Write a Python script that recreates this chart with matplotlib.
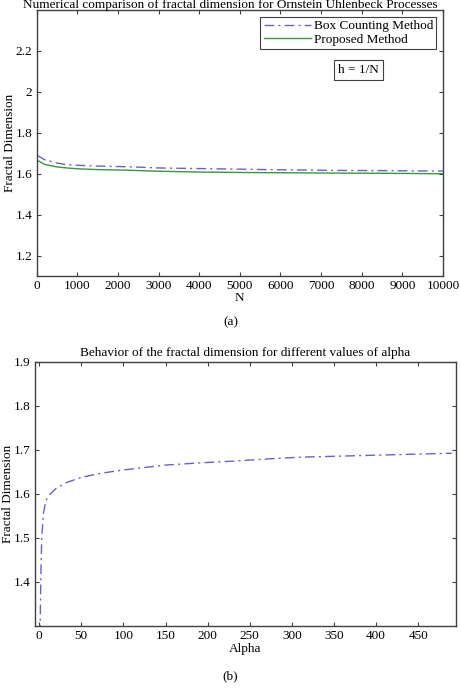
import matplotlib
matplotlib.use('Agg')
import matplotlib.pyplot as plt

plt.rcParams['font.family'] = ['Liberation Serif', 'DejaVu Serif']
plt.rcParams['font.size'] = 9.5

# Panel (a): fractal dimension vs N
n_values = [10, 200, 500, 740, 1000, 1500, 2000, 2380, 3000, 4020, 5000, 5660, 6500, 7300, 8500, 9750, 10000]
box_counting = [1.690, 1.668, 1.652, 1.644, 1.641, 1.637, 1.635, 1.633, 1.628, 1.625, 1.622, 1.620, 1.618, 1.616, 1.615, 1.613, 1.613]
proposed = [1.666, 1.645, 1.633, 1.628, 1.624, 1.620, 1.618, 1.616, 1.612, 1.608, 1.606, 1.605, 1.604, 1.603, 1.602, 1.600, 1.600]

# Panel (b): fractal dimension vs alpha
alpha = [1, 2, 3, 5, 8, 12, 20, 32, 50, 72, 100, 150, 190, 230, 280, 310, 350, 390, 430, 490]
alpha_dim = [1.28, 1.42, 1.50, 1.555, 1.585, 1.597, 1.612, 1.625, 1.637, 1.646, 1.654, 1.665,
             1.670, 1.674, 1.680, 1.683, 1.685, 1.687, 1.689, 1.692]

blue = '#6464c8'
green = '#3c963c'
edge = '#404040'
fs = 9.5
dashdot = (0, (7, 3, 1.5, 3))

fig = plt.figure(figsize=(4.61, 6.95), dpi=100)

def style_axes(ax):
    for s in ax.spines.values():
        s.set_color(edge)
        s.set_linewidth(1.0)
    ax.tick_params(direction='in', top=True, right=True, length=3, width=0.8,
                   color=edge, labelsize=fs, pad=3)

# top panel
ax1 = fig.add_axes([0.0796, 0.6029, 0.8814, 0.3827])
ax1.plot(n_values, box_counting, linestyle=dashdot, color=blue, lw=1.0, label='Box Counting Method')
ax1.plot(n_values, proposed, '-', color=green, lw=1.0, label='Proposed Method')
ax1.set_xlim(0, 10000)
ax1.set_ylim(1.1, 2.4)
ax1.set_xticks(range(0, 10001, 1000))
ax1.set_yticks([1.2, 1.4, 1.6, 1.8, 2.0, 2.2])
ax1.set_yticklabels(['1.2', '1.4', '1.6', '1.8', '2', '2.2'])
style_axes(ax1)
ax1.set_xlabel('N', fontsize=fs, labelpad=0)
ax1.set_ylabel('Fractal Dimension', fontsize=fs, labelpad=0)
leg = ax1.legend(loc='upper right', fontsize=fs, handlelength=3.6, handletextpad=0.2,
                 borderpad=0.25, labelspacing=0.1, fancybox=False, framealpha=1,
                 borderaxespad=0.5)
leg.get_frame().set_edgecolor(edge)
leg.get_frame().set_linewidth(0.8)
ax1.text(0.792, 0.774, 'h = 1/N', transform=ax1.transAxes, ha='center', va='center', fontsize=fs,
         bbox=dict(boxstyle='square,pad=0.3', fc='white', ec=edge, lw=0.8))
fig.text(0.5, 0.9925, 'Numerical comparison of fractal dimension for Ornstein Uhlenbeck Processes',
         ha='center', va='center', fontsize=fs)
fig.text(0.5, 0.537, '(a)', ha='center', va='center', fontsize=fs)

# bottom panel
ax2 = fig.add_axes([0.0759, 0.0997, 0.9133, 0.3799])
ax2.plot(alpha, alpha_dim, linestyle=dashdot, color=blue, lw=1.0)
ax2.set_xlim(-5, 495)
ax2.set_ylim(1.3, 1.9)
ax2.set_xticks(range(0, 451, 50))
ax2.set_yticks([1.4, 1.5, 1.6, 1.7, 1.8, 1.9])
style_axes(ax2)
ax2.set_xlabel('Alpha', fontsize=fs, labelpad=1)
ax2.set_ylabel('Fractal Dimension', fontsize=fs, labelpad=0)
ax2.set_title('Behavior of the fractal dimension for different values of alpha', fontsize=fs, pad=4)
fig.text(0.5, 0.027, '(b)', ha='center', va='center', fontsize=fs)

fig.savefig('out.png', dpi=100)
